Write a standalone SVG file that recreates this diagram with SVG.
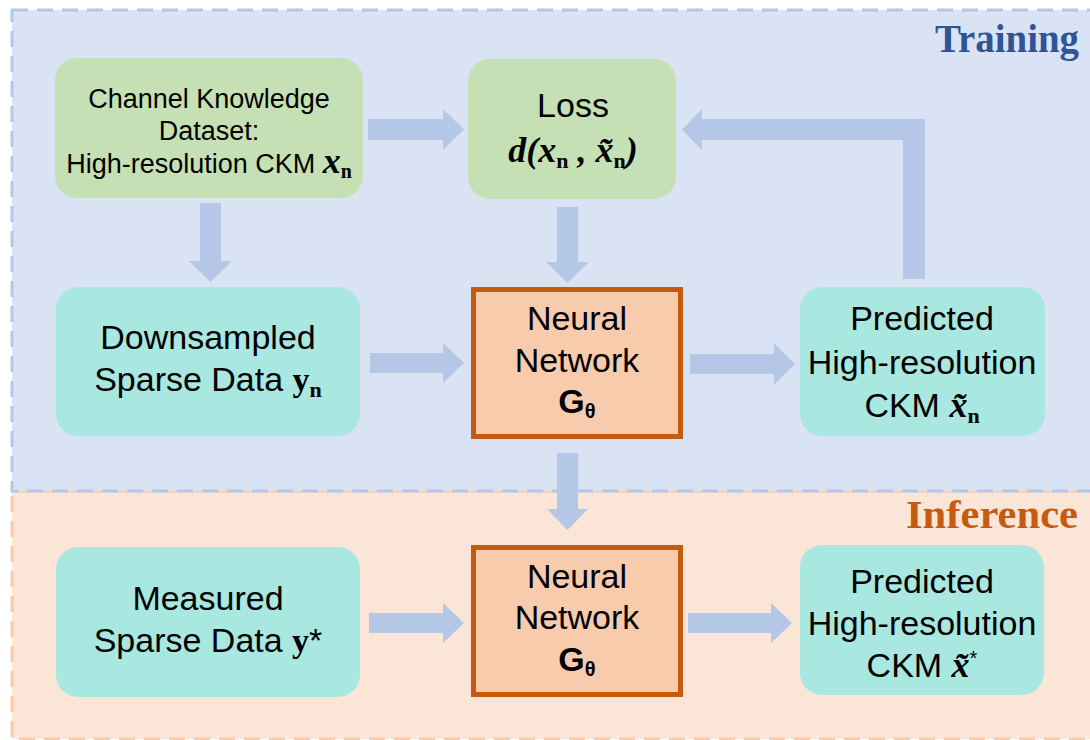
<svg xmlns="http://www.w3.org/2000/svg" width="1090" height="740" viewBox="0 0 1090 740">
<style>
.t{font-family:"Liberation Sans",Arial,sans-serif;fill:#000;text-anchor:middle}
.big{font-size:34px}
.sm{font-size:27px}
.m{font-family:"Liberation Serif","Times New Roman",serif;font-weight:bold;font-style:italic;font-size:36px}
.mu{font-family:"Liberation Serif","Times New Roman",serif;font-weight:bold;font-style:normal}
.sub{font-size:22px}
.arr{fill:#b4c7e7}
.green{fill:#c5e0b4}
.teal{fill:#a9e8e0}
.nn{fill:#f8cbad;stroke:#c55a11;stroke-width:5}
.lbl{font-family:"Liberation Serif","Times New Roman",serif;font-weight:bold;font-size:39px;text-anchor:end}
</style>
<rect x="0" y="0" width="1090" height="740" fill="#ffffff"/>
<g id="inference-region">
<rect x="12" y="491" width="1100" height="248" fill="#fbe5d6" stroke="#f8cbad" stroke-width="3" stroke-dasharray="16 9"/>
<text class="lbl" x="1078" y="528" fill="#c55a11" textLength="172" lengthAdjust="spacingAndGlyphs">Inference</text>
</g>
<g id="training-region">
<rect x="12" y="10" width="1100" height="481" fill="#dae3f3" stroke="#b4c7e7" stroke-width="3" stroke-dasharray="16 9"/>
<text class="lbl" x="1079" y="52" fill="#2f5597" textLength="144" lengthAdjust="spacingAndGlyphs">Training</text>
</g>
<g id="connectors">
<polygon class="arr" points="368,119 443,119 443,109 464,129.5 443,150 443,140 368,140"/>
<polygon class="arr" points="200,203 221,203 221,261 232,261 210.5,282 189,261 200,261"/>
<polygon class="arr" points="557,207 578,207 578,262 589,262 567.5,283 546,262 557,262"/>
<polygon class="arr" points="370,353 443,353 443,343 464,363 443,383 443,373 370,373"/>
<polygon class="arr" points="690,354 774,354 774,343 795,364 774,385 774,374 690,374"/>
<polygon class="arr" points="925,279 903,279 903,140 702,140 702,150 682,129.5 702,109 702,119 925,119"/>
<polygon class="arr" points="557,453 578,453 578,509 588,509 567.5,530 547,509 557,509"/>
<polygon class="arr" points="369,613 443,613 443,603 464,623 443,643 443,633 369,633"/>
<polygon class="arr" points="688,613 771,613 771,603 792,623 771,643 771,633 688,633"/>
</g>
<g id="channel-dataset">
<rect class="green" x="55" y="58" width="308" height="140" rx="22"/>
<text class="t sm" x="209" y="108">Channel Knowledge</text>
<text class="t sm" x="209" y="140">Dataset:</text>
<text class="t sm" x="209" y="173">High-resolution CKM <tspan class="m" font-size="29">x</tspan><tspan class="mu" font-weight="normal" font-size="20" dy="5">n</tspan></text>
</g>
<g id="loss">
<rect class="green" x="468" y="59" width="208" height="140" rx="22"/>
<text class="t big" x="573" y="117">Loss</text>
<text class="t" x="573" y="162"><tspan class="m">d(x</tspan><tspan class="mu sub" dy="6">n</tspan><tspan class="m" dy="-6"> , x̃</tspan><tspan class="mu sub" dy="6">n</tspan><tspan class="m" dy="-6">)</tspan></text>
</g>
<g id="downsampled">
<rect class="teal" x="56" y="287" width="304" height="149" rx="22"/>
<text class="t big" x="208" y="349">Downsampled</text>
<text class="t big" x="208" y="391">Sparse Data <tspan class="mu">y</tspan><tspan class="mu sub" dy="6">n</tspan></text>
</g>
<g id="neural-network">
<rect class="nn" x="473.5" y="289.5" width="207" height="147"/>
<text class="t big" x="577" y="330">Neural</text>
<text class="t big" x="577" y="372">Network</text>
<text class="t big" x="577" y="413" font-weight="bold">G<tspan font-size="20" dy="5">θ</tspan></text>
</g>
<g id="predicted-training">
<rect class="teal" x="800" y="287" width="245" height="149" rx="22"/>
<text class="t big" x="922" y="330">Predicted</text>
<text class="t big" x="922" y="374">High-resolution</text>
<text class="t big" x="922" y="417">CKM <tspan class="m">x̃</tspan><tspan class="mu sub" font-weight="normal" dy="6">n</tspan></text>
</g>
<g id="measured">
<rect class="teal" x="56" y="547" width="304" height="150" rx="22"/>
<text class="t big" x="208" y="610">Measured</text>
<text class="t big" x="208" y="652">Sparse Data <tspan class="mu">y</tspan>*</text>
</g>
<g id="neural-network-inference">
<rect class="nn" x="473.5" y="547.5" width="207" height="147"/>
<text class="t big" x="577" y="588">Neural</text>
<text class="t big" x="577" y="629">Network</text>
<text class="t big" x="577" y="671" font-weight="bold">G<tspan font-size="20" dy="5">θ</tspan></text>
</g>
<g id="predicted-inference">
<rect class="teal" x="800" y="545" width="244" height="150" rx="22"/>
<text class="t big" x="922" y="593">Predicted</text>
<text class="t big" x="922" y="635">High-resolution</text>
<text class="t big" x="922" y="677">CKM <tspan class="m">x̃</tspan><tspan font-size="20" dy="-12">*</tspan></text>
</g>
</svg>
